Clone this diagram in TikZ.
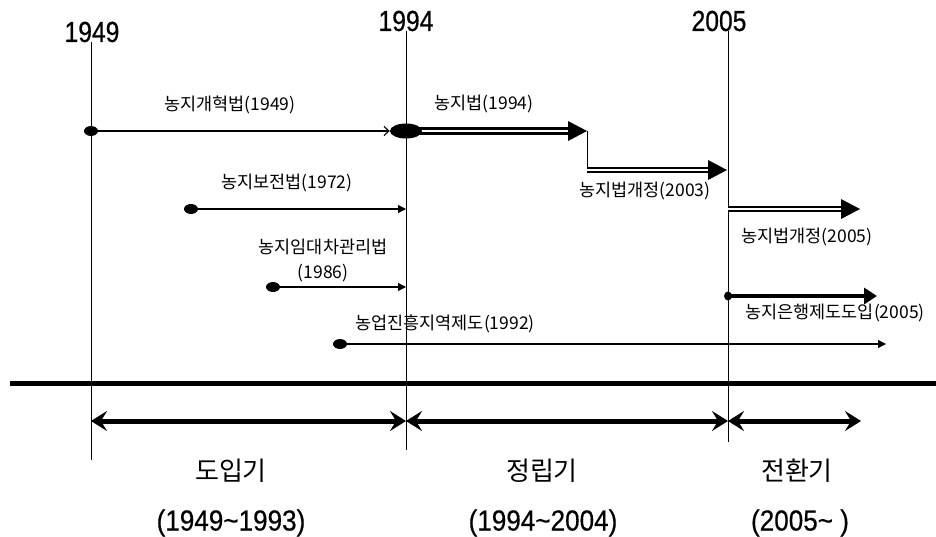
\documentclass[tikz,border=0pt]{standalone}
\usepackage{fontspec}
\usetikzlibrary{arrows.meta,shapes.geometric}
\newfontfamily\krfont{Noto Sans CJK KR}
\newfontfamily\yrfont[FakeStretch=0.85,FakeBold=0.6]{Liberation Sans}
\newfontfamily\rngfont[FakeStretch=0.9,FakeBold=0.4]{Liberation Sans}
\tikzset{
  vline/.style={draw,line width=0.8pt},
  yearlbl/.style={inner sep=0pt,font=\yrfont\fontsize{29}{32}\selectfont},
  lawlbl/.style={inner sep=0pt,font=\krfont\fontsize{17.5}{25}\selectfont},
  perlbl/.style={inner sep=0pt,font=\krfont\fontsize{26}{30}\selectfont},
  rnglbl/.style={inner sep=0pt,font=\rngfont\fontsize{29}{30}\selectfont},
  dotnode/.style={ellipse,fill=black,inner sep=0pt,minimum width=14pt,minimum height=10pt},
  smalldot/.style={ellipse,fill=black,inner sep=0pt,minimum width=8pt,minimum height=9pt},
  bigdot/.style={ellipse,fill=black,inner sep=0pt,minimum width=32pt,minimum height=15pt},
  thinarrow/.style={line width=1.1pt,-{Triangle[length=8pt,width=8pt]}},
  barbarrow/.style={line width=1.1pt,-{Straight Barb[length=5pt,width=9pt]}},
  dblshaft/.style={line width=2.7pt,double=white,double distance=1.3pt},
  boldarrow/.style={line width=4.5pt,-{Triangle[length=13pt,width=16pt]}},
  perarrow/.style={line width=5pt,{Stealth[length=16pt,width=20pt,inset=6pt]}-{Stealth[length=16pt,width=20pt,inset=6pt]}},
  bighead/.pic={\fill (0,0) -- (-19,-10) -- (-19,10) -- cycle;}
}
\begin{document}
\begin{tikzpicture}[x=1pt,y=-1pt]
\useasboundingbox (0,0) rectangle (936,537);

% year labels and vertical lines
\node[yearlbl] (y1949) at (92,32) {1949};
\node[yearlbl] (y1994) at (406,21) {1994};
\node[yearlbl] (y2005) at (719,21) {2005};
\coordinate (b1949) at (91,460);
\coordinate (b1994) at (406,450);
\coordinate (b2005) at (728,442);
\draw[vline] (y1949.south -| b1949) -- (b1949);
\draw[vline] (y1994.south -| b1994) -- (b1994);
\draw[vline] (y2005.south -| b2005) -- (b2005);

% 농지법 chain
\coordinate (c94) at (406,131);
\coordinate (t1) at (587,131);
\draw[dblshaft,line width=3pt] ([xshift=10pt]c94) -- ([xshift=-18pt]t1);
\pic at (t1) {bighead};
\coordinate (c1) at (587,170);
\coordinate (t2) at (727,170);
\draw[line width=1pt] (t1) -- (c1);
\draw[dblshaft] ([xshift=-0.5pt]c1) -- ([xshift=-18pt]t2);
\pic at (t2) {bighead};
\coordinate (s3) at (728,209);
\coordinate (t3) at (860,209);
\draw[dblshaft] (s3) -- ([xshift=-18pt]t3);
\pic at (t3) {bighead};
\node[bigdot] (e94) at (c94) {};

% 농지개혁법
\node[dotnode] (d49) at (91,131) {};
\draw[barbarrow] (d49.center) -- (e94.west);
\node[lawlbl] (l49) at (230,105) {농지개혁법(1949)};
\node[lawlbl] (l94) at (484,104) {농지법(1994)};
\node[lawlbl] (l03) at (645,191) {농지법개정(2003)};
\node[lawlbl] (l05) at (807,237) {농지법개정(2005)};

% 농지보전법
\node[dotnode] (d72) at (191,209) {};
\coordinate (e72) at (406,209);
\draw[thinarrow] (d72.center) -- (e72);
\node[lawlbl] (l72) at (287,183) {농지보전법(1972)};

% 농지임대차관리법
\node[dotnode] (d86) at (273,287) {};
\coordinate (e86) at (406,287);
\draw[thinarrow] (d86.center) -- (e86);
\node[lawlbl,align=center] (l86) at (323,260) {농지임대차관리법\\(1986)};

% 농업진흥지역제도
\node[dotnode] (d92) at (340,344) {};
\coordinate (e92) at (886,344);
\draw[thinarrow] (d92.center) -- (e92);
\node[lawlbl] (l92) at (445,324) {농업진흥지역제도(1992)};

% 농지은행제도도입
\node[smalldot] (d05) at (728,296) {};
\coordinate (e05) at (877,296);
\draw[boldarrow] (d05.center) -- (e05);
\node[lawlbl] (lbank) at (835,313) {농지은행제도도입(2005)};

% base line
\coordinate (bl) at (10,383);
\coordinate (br) at (936,383);
\draw[line width=5pt] (bl) -- (br);

% period arrows
\coordinate (p1) at (91,421);
\coordinate (p2) at (406,421);
\coordinate (p3) at (728,421);
\coordinate (p4) at (861,421);
\draw[perarrow] (p1) -- (p2);
\draw[perarrow] (p2) -- (p3);
\draw[perarrow] (p3) -- (p4);

% period labels
\node[perlbl] (n1) at (231,471) {도입기};
\node[perlbl] (n2) at (542,471) {정립기};
\node[perlbl] (n3) at (797,471) {전환기};
\node[rnglbl] (r1) at (231,523) {(1949\textasciitilde1993)};
\node[rnglbl] (r2) at (543,523) {(1994\textasciitilde2004)};
\node[rnglbl] (r3) at (800,523) {(2005\textasciitilde\ )};
\end{tikzpicture}
\end{document}
